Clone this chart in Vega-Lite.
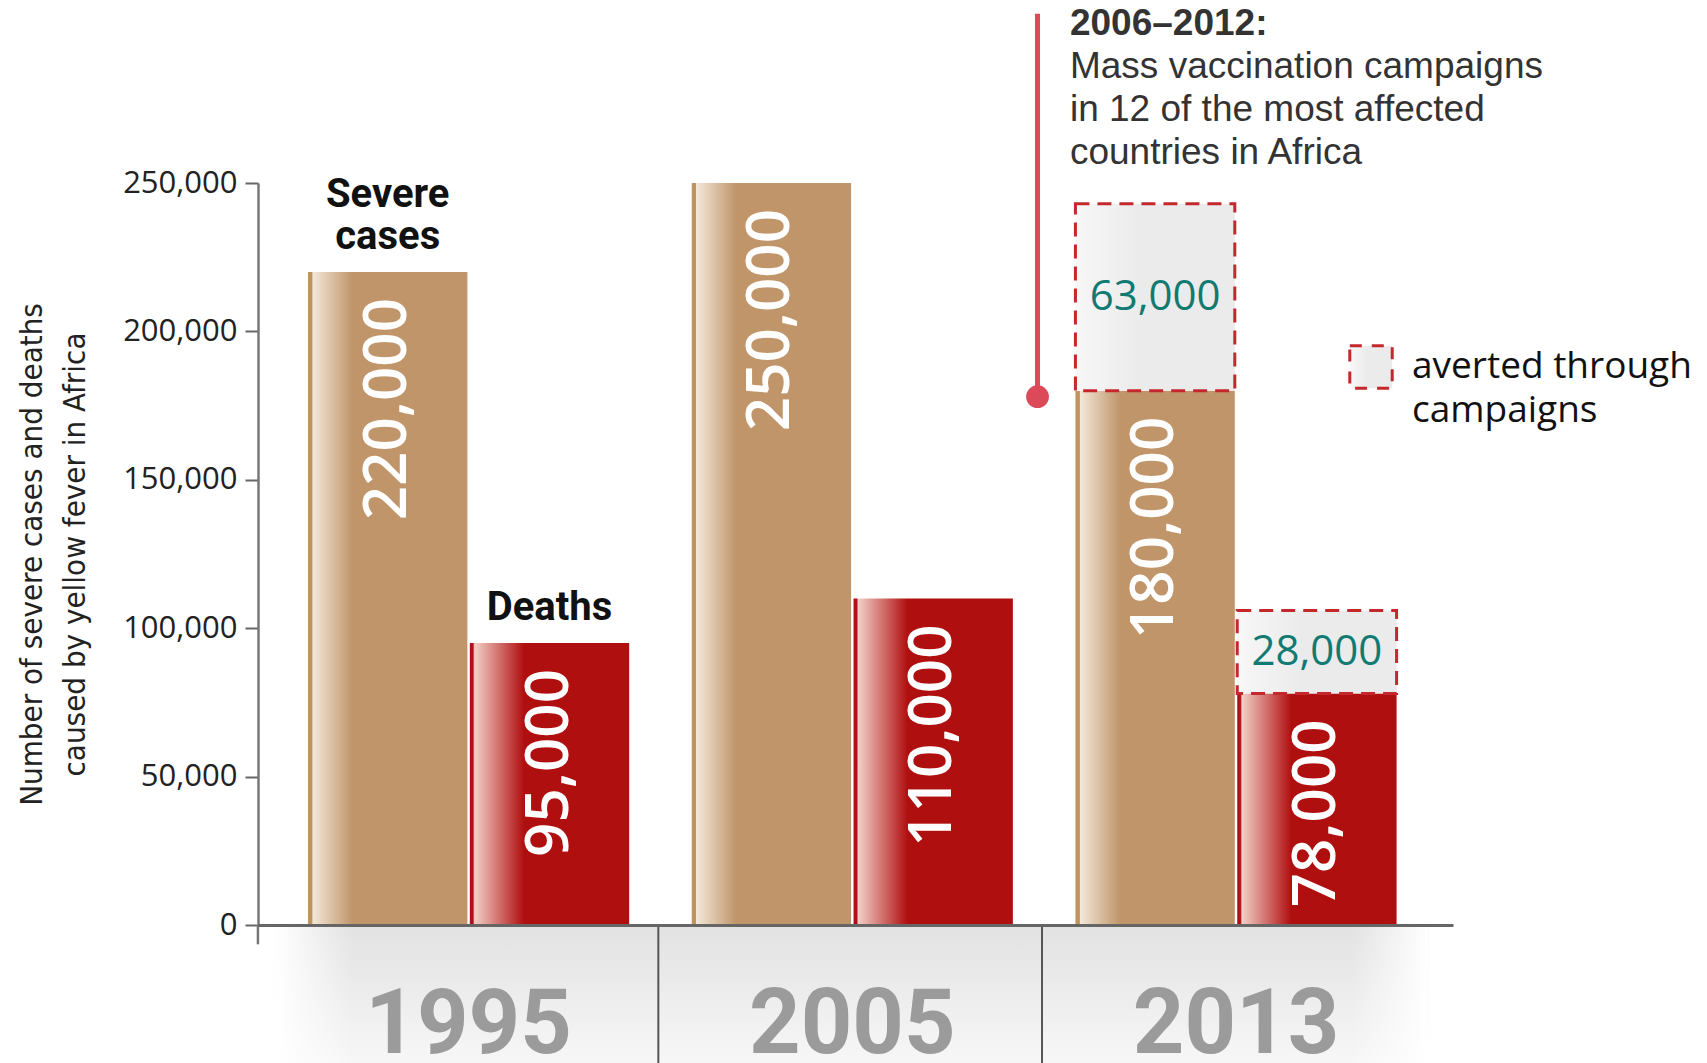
{
  "$schema": "https://vega.github.io/schema/vega-lite/v6.json",
  "width": 1195,
  "height": 742,
  "autosize": {"type": "none"},
  "padding": {"left": 258, "top": 183, "right": 254, "bottom": 138},
  "background": "white",
  "config": {
    "view": {"stroke": null},
    "font": "Open Sans",
    "style": {"guide-label": {"lineHeight": 44}}
  },
  "datasets": {
    "cases": [
      {"year": "1995", "type": "Severe cases", "value": 220000},
      {"year": "1995", "type": "Deaths", "value": 95000},
      {"year": "2005", "type": "Severe cases", "value": 250000},
      {"year": "2005", "type": "Deaths", "value": 110000},
      {"year": "2013", "type": "Severe cases", "value": 180000, "averted": 63000, "top": 243000},
      {"year": "2013", "type": "Deaths", "value": 78000, "averted": 28000, "top": 106000}
    ],
    "note": [
      {"period": "2006–2012:", "text": "Mass vaccination campaigns\nin 12 of the most affected\ncountries in Africa"}
    ]
  },
  "data": {"name": "cases"},
  "layer": [
    {
      "transform": [{"filter": "datum.type === 'Severe cases'"}],
      "mark": {
        "type": "bar",
        "width": {"band": 1.2},
        "fill": {"gradient": "linear", "x1": 0, "x2": 0, "y1": 0, "y2": 1,
          "stops": [{"offset": 0, "color": "#e2e2e2"}, {"offset": 1, "color": "#f7f7f7"}]}
      },
      "encoding": {
        "x": {
          "field": "year", "type": "nominal",
          "scale": {"paddingInner": 0.163, "paddingOuter": 0.1387, "align": 0.47},
          "axis": {
            "title": null, "labelAngle": 0, "ticks": false, "zindex": 1,
            "domainColor": "#666", "domainWidth": 3,
            "labelFont": "Roboto", "labelFontWeight": "bold", "labelLimit": 0,
            "labelFontSize": 90, "labelColor": "#9b9b9b",
            "labelBaseline": "top", "labelPadding": 56
          }
        },
        "y": {
          "datum": 0, "type": "quantitative",
          "scale": {"domain": [0, 250000], "nice": false, "zero": false},
          "axis": {
            "values": [0, 50000, 100000, 150000, 200000, 250000],
            "labelExpr": "format(datum.value, ',')", "grid": false,
            "title": ["Number of severe cases and deaths", "caused by  yellow fever in Africa"],
            "titleFont": "DejaVu Sans Condensed", "titleFontSize": 31, "titleFontWeight": "normal",
            "titleColor": "#222", "titleLineHeight": 43, "titlePadding": 31,
            "labelFont": "Open Sans", "labelFontSize": 31, "labelColor": "#222", "labelPadding": 8,
            "tickSize": 13, "tickColor": "#666", "tickWidth": 2,
            "domainColor": "#777", "domainWidth": 2.5
          }
        },
        "y2": {"datum": -47000}
      }
    },
    {
      "transform": [{"filter": "datum.type === 'Severe cases' && datum.year !== '2005'"}],
      "mark": {
        "type": "bar",
        "width": {"band": 1.2},
        "fill": {"expr": "datum.year === '1995' ? {gradient: 'linear', x1: 0, x2: 1, y1: 0, y2: 0, stops: [{offset: 0, color: 'rgba(255,255,255,1)'}, {offset: 0.2, color: 'rgba(255,255,255,0)'}, {offset: 1, color: 'rgba(255,255,255,0)'}]} : {gradient: 'linear', x1: 0, x2: 1, y1: 0, y2: 0, stops: [{offset: 0, color: 'rgba(255,255,255,0)'}, {offset: 0.8, color: 'rgba(255,255,255,0)'}, {offset: 1, color: 'rgba(255,255,255,1)'}]}"}
      },
      "encoding": {
        "x": {"field": "year", "type": "nominal"},
        "y": {"datum": 0, "type": "quantitative"},
        "y2": {"datum": -47000}
      }
    },
    {
      "transform": [{"filter": "datum.type === 'Severe cases' && datum.year !== '1995'"}],
      "mark": {"type": "rule", "color": "#555", "strokeWidth": 2},
      "encoding": {
        "x": {"field": "year", "type": "nominal", "bandPosition": -0.104},
        "y": {"datum": 0, "type": "quantitative"},
        "y2": {"datum": -47000}
      }
    },
    {
      "transform": [{"filter": "datum.type === 'Severe cases' && datum.year === '1995'"}],
      "mark": {"type": "rule", "color": "#777", "strokeWidth": 2.5},
      "encoding": {
        "x": {"field": "year", "type": "nominal", "bandPosition": -0.156},
        "y": {"datum": 0, "type": "quantitative"},
        "y2": {"datum": -6500}
      }
    },
    {
      "transform": [{"filter": "datum.type === 'Severe cases'"}],
      "mark": {
        "type": "bar",
        "fill": {"gradient": "linear", "x1": 0, "x2": 1, "y1": 0, "y2": 0,
          "stops": [
            {"offset": 0, "color": "#c0945f"},
            {"offset": 0.025, "color": "#c0945f"},
            {"offset": 0.03, "color": "#f3e7d8"},
            {"offset": 0.28, "color": "#c09569"},
            {"offset": 1, "color": "#c09569"}
          ]}
      },
      "encoding": {
        "x": {"field": "year", "type": "nominal"},
        "xOffset": {"field": "type", "type": "nominal", "sort": ["Severe cases", "Deaths"], "scale": {"paddingInner": 0.015}},
        "y": {"field": "value", "type": "quantitative"}
      }
    },
    {
      "transform": [{"filter": "datum.type === 'Deaths'"}],
      "mark": {
        "type": "bar",
        "fill": {"gradient": "linear", "x1": 0, "x2": 1, "y1": 0, "y2": 0,
          "stops": [
            {"offset": 0, "color": "#b0101a"},
            {"offset": 0.02, "color": "#b0101a"},
            {"offset": 0.03, "color": "#f1cfc6"},
            {"offset": 0.34, "color": "#b00f10"},
            {"offset": 1, "color": "#b00f10"}
          ]}
      },
      "encoding": {
        "x": {"field": "year", "type": "nominal"},
        "xOffset": {"field": "type", "type": "nominal", "sort": ["Severe cases", "Deaths"]},
        "y": {"field": "value", "type": "quantitative"}
      }
    },
    {
      "transform": [{"filter": "isValid(datum.averted)"}],
      "mark": {
        "type": "bar", "strokeDash": [14, 8], "strokeWidth": 3,
        "fill": {"gradient": "linear", "x1": 0, "x2": 1, "y1": 0, "y2": 0,
          "stops": [{"offset": 0, "color": "#f7f7f7"}, {"offset": 0.4, "color": "#ebebeb"}, {"offset": 1, "color": "#ebebeb"}]}
      },
      "encoding": {
        "x": {"field": "year", "type": "nominal"},
        "xOffset": {"field": "type", "type": "nominal", "sort": ["Severe cases", "Deaths"]},
        "y": {"field": "value", "type": "quantitative"},
        "y2": {"field": "top"},
        "stroke": {
          "datum": "averted through campaigns", "type": "nominal",
          "scale": {"range": ["#c5282c"]},
          "legend": {
            "orient": "none", "legendX": 1090, "legendY": 161, "title": null,
            "symbolType": "square", "symbolSize": 1800, "symbolFillColor": "#ebebeb",
            "symbolStrokeWidth": 3, "symbolDash": [12, 10],
            "labelFont": "Open Sans", "labelFontSize": 37, "labelColor": "#111",
            "labelExpr": "['averted through', 'campaigns']",
            "labelOffset": 18, "labelLimit": 0, "labelBaseline": "middle"
          }
        }
      }
    },
    {
      "mark": {
        "type": "text", "angle": 270, "align": "right", "baseline": "middle", "dx": -26,
        "fill": "white", "font": "Open Sans", "fontWeight": 600, "fontSize": 60
      },
      "encoding": {
        "x": {"field": "year", "type": "nominal"},
        "xOffset": {"field": "type", "type": "nominal", "sort": ["Severe cases", "Deaths"]},
        "y": {"field": "value", "type": "quantitative"},
        "text": {"field": "value", "type": "quantitative", "format": ","}
      }
    },
    {
      "transform": [
        {"filter": "isValid(datum.averted)"},
        {"fold": ["value", "top"], "as": ["edge", "level"]}
      ],
      "mark": {
        "type": "text", "align": "center", "baseline": "middle",
        "fill": "#117a72", "font": "Open Sans", "fontSize": 42
      },
      "encoding": {
        "x": {"field": "year", "type": "nominal"},
        "xOffset": {"field": "type", "type": "nominal", "sort": ["Severe cases", "Deaths"]},
        "y": {"field": "level", "type": "quantitative", "aggregate": "mean"},
        "text": {"field": "averted", "type": "quantitative", "format": ","}
      }
    },
    {
      "transform": [{"filter": "datum.year === '1995' && datum.type === 'Severe cases'"}],
      "mark": {
        "type": "text", "align": "center", "baseline": "alphabetic", "dy": -65,
        "lineBreak": " ", "lineHeight": 42,
        "fill": "#111", "font": "Roboto", "fontWeight": "bold", "fontSize": 40
      },
      "encoding": {
        "x": {"field": "year", "type": "nominal"},
        "xOffset": {"field": "type", "type": "nominal", "sort": ["Severe cases", "Deaths"]},
        "y": {"field": "value", "type": "quantitative"},
        "text": {"field": "type", "type": "nominal"}
      }
    },
    {
      "transform": [{"filter": "datum.year === '1995' && datum.type === 'Deaths'"}],
      "mark": {
        "type": "text", "align": "center", "baseline": "alphabetic", "dy": -23,
        "fill": "#111", "font": "Roboto", "fontWeight": "bold", "fontSize": 40
      },
      "encoding": {
        "x": {"field": "year", "type": "nominal"},
        "xOffset": {"field": "type", "type": "nominal", "sort": ["Severe cases", "Deaths"]},
        "y": {"field": "value", "type": "quantitative"},
        "text": {"field": "type", "type": "nominal"}
      }
    },
    {
      "data": {"name": "note"},
      "mark": {"type": "rule", "color": "#dc4a5a", "strokeWidth": 5},
      "encoding": {
        "x": {"datum": "2013", "type": "nominal", "bandPosition": -0.118},
        "y": {"datum": 178000, "type": "quantitative"},
        "y2": {"datum": 307000}
      }
    },
    {
      "data": {"name": "note"},
      "mark": {"type": "point", "shape": "circle", "filled": true, "size": 520, "color": "#dc4a5a", "opacity": 1},
      "encoding": {
        "x": {"datum": "2013", "type": "nominal", "bandPosition": -0.118},
        "y": {"datum": 178000, "type": "quantitative"}
      }
    },
    {
      "data": {"name": "note"},
      "mark": {
        "type": "text", "align": "left", "baseline": "alphabetic",
        "fill": "#333", "font": "Liberation Sans", "fontWeight": "bold", "fontSize": 37
      },
      "encoding": {
        "x": {"datum": "2013", "type": "nominal", "bandPosition": -0.017},
        "y": {"datum": 300000, "type": "quantitative"},
        "text": {"field": "period", "type": "nominal"}
      }
    },
    {
      "data": {"name": "note"},
      "mark": {
        "type": "text", "align": "left", "baseline": "alphabetic",
        "lineBreak": "\n", "lineHeight": 43,
        "fill": "#333", "font": "Liberation Sans", "fontSize": 37
      },
      "encoding": {
        "x": {"datum": "2013", "type": "nominal", "bandPosition": -0.017},
        "y": {"datum": 285400, "type": "quantitative"},
        "text": {"field": "text", "type": "nominal"}
      }
    }
  ]
}
